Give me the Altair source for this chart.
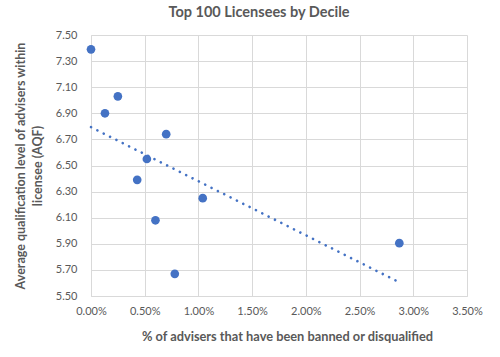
import altair as alt
import pandas as pd

pct_banned = [0.0000, 0.0013, 0.0025, 0.0070, 0.0052, 0.0043, 0.0104, 0.0060, 0.0078, 0.0287]
aqf_level = [7.39, 6.90, 7.03, 6.74, 6.55, 6.39, 6.25, 6.08, 5.67, 5.905]
x_ticks = [0, 0.005, 0.01, 0.015, 0.02, 0.025, 0.03, 0.035]
y_ticks = [5.5, 5.7, 5.9, 6.1, 6.3, 6.5, 6.7, 6.9, 7.1, 7.3, 7.5]

df = pd.DataFrame({"x": pct_banned, "y": aqf_level})

FONT = "Lato"
GREY = "#595959"
BLUE = "#4472C4"

x_enc = alt.X("x:Q",
              scale=alt.Scale(domain=[0, 0.035], nice=False),
              axis=alt.Axis(format=".2%", values=x_ticks,
                            title="% of advisers that have been banned or disqualified",
                            titleFontWeight="bold", titleFontSize=12.8, titleColor=GREY,
                            titlePadding=14, titleX=196,
                            labelPadding=9, labelFontSize=11, labelColor=GREY,
                            labelFlush=False, labelOverlap=False,
                            ticks=False, grid=True, gridColor="#d9d9d9",
                            domainColor="#d9d9d9"))
y_enc = alt.Y("y:Q",
              scale=alt.Scale(domain=[5.5, 7.5], nice=False, zero=False),
              axis=alt.Axis(format=".2f", values=y_ticks,
                            title=["Average qualification level of advisers within", "licensee (AQF)"],
                            titleFontWeight="bold", titleFontSize=12.5, titleColor=GREY,
                            titleX=-64, titleLineHeight=17,
                            labelPadding=14, labelFontSize=11, labelColor=GREY,
                            labelFlush=False, labelOverlap=False,
                            ticks=False, grid=True, gridColor="#d9d9d9",
                            domainColor="#d9d9d9"))

points = alt.Chart(df).mark_circle(size=75, color=BLUE, opacity=1).encode(x=x_enc, y=y_enc)

trend = alt.Chart(df).transform_regression("x", "y", method="linear").mark_line(
    color=BLUE, strokeWidth=2.6, strokeDash=[0.1, 7], strokeCap="round"
).encode(x=x_enc, y=y_enc)

chart = (points + trend).properties(
    width=376, height=261,
    title=alt.TitleParams("Top 100 Licensees by Decile", font=FONT, fontSize=14.5,
                          fontWeight="bold", color=GREY, anchor="middle", dx=-20, offset=9),
    autosize=alt.AutoSizeParams(type="none"),
    padding={"left": 91, "top": 35, "right": 33, "bottom": 61},
).configure(font=FONT).configure_view(stroke=None).configure_axis(labelFont=FONT, titleFont=FONT)

chart.save("out.html", embed_options={"renderer": "svg", "actions": False})
